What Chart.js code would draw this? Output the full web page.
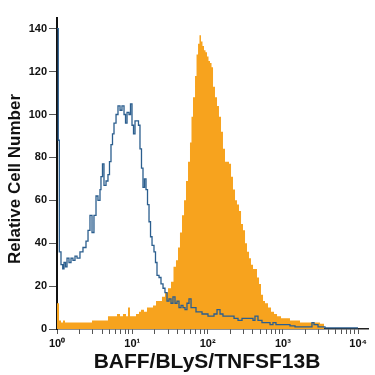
<!DOCTYPE html>
<html>
<head>
<meta charset="utf-8">
<script src="https://cdn.jsdelivr.net/npm/chart.js@4/dist/chart.umd.min.js"></script>
<style>
    html, body { margin: 0; padding: 0; background: #fff; }
    #chart { display: block; }
</style>
</head>
<body>
<canvas id="chart" width="375" height="375"></canvas>
<script>
// x positions are in decades (log10 of intensity), counts per channel
const blueLog = [0.000,0.017,0.031,0.053,0.076,0.093,0.113,0.133,0.159,0.186,
    0.212,0.239,0.266,0.305,0.345,0.385,0.412,0.438,0.465,0.491,
    0.518,0.544,0.571,0.584,0.604,0.624,0.651,0.677,0.697,0.717,
    0.737,0.757,0.784,0.810,0.837,0.863,0.890,0.910,0.930,0.956,
    0.976,0.996,1.016,1.036,1.063,1.082,1.102,1.122,1.142,1.162,
    1.182,1.202,1.222,1.242,1.262,1.288,1.308,1.328,1.355,1.381,
    1.408,1.434,1.461,1.487,1.514,1.540,1.567,1.594,1.620,1.647,
    1.673,1.700,1.726,1.753,1.780,1.806,1.846,1.886,1.926,1.965,
    2.005,2.045,2.085,2.125,2.165,2.204,2.244,2.297,2.351,2.404,
    2.457,2.510,2.563,2.603,2.629,2.669,2.722,2.776,2.829,2.868,
    2.908,2.961,3.028,3.094,3.161,3.227,3.293,3.360,3.386,3.413,
    3.466,3.559,3.758,3.997];
const blueCount = [140,88,36,30,28,31,29,33,31,33,
    32,34,33,36,38,41,46,53,45,53,
    62,60,65,71,77,67,69,72,78,86,
    91,96,100,104,102,104,100,96,101,100,
    105,95,91,97,97,95,84,75,66,70,
    65,58,50,43,39,36,31,25,24,21,
    19,17,13,14,12,15,12,13,10,11,
    10,9,12,14,10,10,8,8,7,7,
    6,6,7,9,7,6,6,6,5,4,
    5,5,5,4,6,4,3,3,2,3,
    2,2,2,1.5,1,1,1,1,3,2,
    1,0.5,0.5,0.5];

const orangeLog = [0.000,0.027,0.053,0.080,0.106,0.146,0.199,0.252,0.305,0.359,
    0.412,0.465,0.518,0.571,0.624,0.677,0.717,0.757,0.797,0.837,
    0.876,0.916,0.943,0.969,1.009,1.049,1.089,1.116,1.155,1.195,
    1.235,1.275,1.315,1.355,1.394,1.434,1.474,1.514,1.547,1.580,
    1.607,1.633,1.660,1.687,1.713,1.740,1.766,1.786,1.806,1.833,
    1.853,1.873,1.892,1.912,1.932,1.952,1.972,1.992,2.012,2.032,
    2.052,2.072,2.098,2.125,2.151,2.178,2.204,2.231,2.258,2.284,
    2.311,2.337,2.364,2.390,2.417,2.444,2.470,2.497,2.523,2.550,
    2.576,2.603,2.629,2.656,2.683,2.709,2.736,2.762,2.802,2.842,
    2.882,2.922,2.975,3.028,3.094,3.161,3.227,3.293,3.360,3.426,
    3.493,3.546];
const orangeCount = [12,4,3,4,3,3,3,3,3,3,
    3,4,4,4,4,6,6,6,7,6,
    7,6,10,6,6,7,8,9,8,10,
    10,11,13,13,15,17,19,22,29,32,
    38,45,53,60,69,78,87,99,108,118,
    128,133,137,134,132,130,129,127,125,124,
    122,113,108,104,99,92,84,78,78,77,
    71,65,60,58,55,49,46,40,36,33,
    30,28,28,24,21,16,13,12,10,8,
    7,6,5,5,4,4,3,3,3,3,
    2.5,0];

const decadeLabels = ['10\u2070', '10\u00B9', '10\u00B2', '10\u00B3', '10\u2074'];
const yTickValues = [0, 20, 40, 60, 80, 100, 120, 140];
const xTitle = 'BAFF/BLyS/TNFSF13B';
const yTitle = 'Relative Cell Number';

const FONT = '"Liberation Sans", Arial, sans-serif';

const toPoints = (xs, ys) => xs.map((x, i) => ({ x: x, y: ys[i] }));

// axis titles placed by hand, like the original figure
const axisTitles = {
    id: 'axisTitles',
    afterDraw(chart) {
        const ctx = chart.ctx;
        ctx.save();
        ctx.fillStyle = '#111';
        ctx.textAlign = 'center';
        ctx.textBaseline = 'middle';
        ctx.font = 'bold 17px ' + FONT;
        ctx.translate(15, 179);
        ctx.rotate(-Math.PI / 2);
        ctx.fillText(yTitle, 0, 0);
        ctx.restore();

        ctx.save();
        ctx.fillStyle = '#111';
        ctx.textAlign = 'center';
        ctx.textBaseline = 'middle';
        ctx.font = 'bold 21px ' + FONT;
        ctx.fillText(xTitle, 207, 362);
        ctx.restore();
    }
};

new Chart(document.getElementById('chart'), {
    type: 'line',
    data: {
        datasets: [
            {
                label: 'Isotype',
                data: toPoints(blueLog, blueCount),
                borderColor: '#2b5e8e',
                borderWidth: 1.3,
                stepped: true,
                fill: false,
                pointRadius: 0,
                clip: 3,
                order: 0
            },
            {
                label: 'BAFF/BLyS/TNFSF13B',
                data: toPoints(orangeLog, orangeCount),
                borderWidth: 0,
                backgroundColor: '#f7a31e',
                borderColor: '#f7a31e',
                stepped: true,
                fill: 'origin',
                pointRadius: 0,
                order: 1
            }
        ]
    },
    options: {
        responsive: false,
        animation: false,
        layout: { padding: { top: 18, right: 7, left: 0, bottom: 0 } },
        plugins: {
            legend: { display: false },
            tooltip: { enabled: false }
        },
        scales: {
            x: {
                type: 'linear',
                min: 0,
                max: 4.13,
                afterFit(scale) { scale.height = 46; },
                afterBuildTicks(scale) {
                    const ticks = [];
                    for (let d = 0; d < 4; d++) {
                        for (let k = 1; k < 10; k++) {
                            ticks.push({ value: d + Math.log10(k) });
                        }
                    }
                    ticks.push({ value: 4 });
                    scale.ticks = ticks;
                },
                ticks: {
                    autoSkip: false,
                    maxRotation: 0,
                    padding: 3,
                    color: '#111',
                    font: { family: FONT, size: 11, weight: 'bold' },
                    callback: (value) => Number.isInteger(value) ? decadeLabels[value] : ''
                },
                grid: {
                    drawOnChartArea: false,
                    tickLength: 5,
                    tickColor: '#555',
                    tickWidth: 1
                },
                border: { display: true, color: '#222', width: 1.5 }
            },
            y: {
                min: 0,
                max: 145,
                afterFit(scale) { scale.width = 57; },
                afterBuildTicks(scale) {
                    scale.ticks = yTickValues.map(v => ({ value: v }));
                },
                ticks: {
                    padding: 2,
                    color: '#111',
                    font: { family: FONT, size: 11, weight: 'bold' }
                },
                grid: {
                    drawOnChartArea: false,
                    tickLength: 8,
                    tickColor: '#555',
                    tickWidth: 1
                },
                border: { display: true, color: '#111', width: 2 }
            }
        }
    },
    plugins: [axisTitles]
});
</script>
</body>
</html>
